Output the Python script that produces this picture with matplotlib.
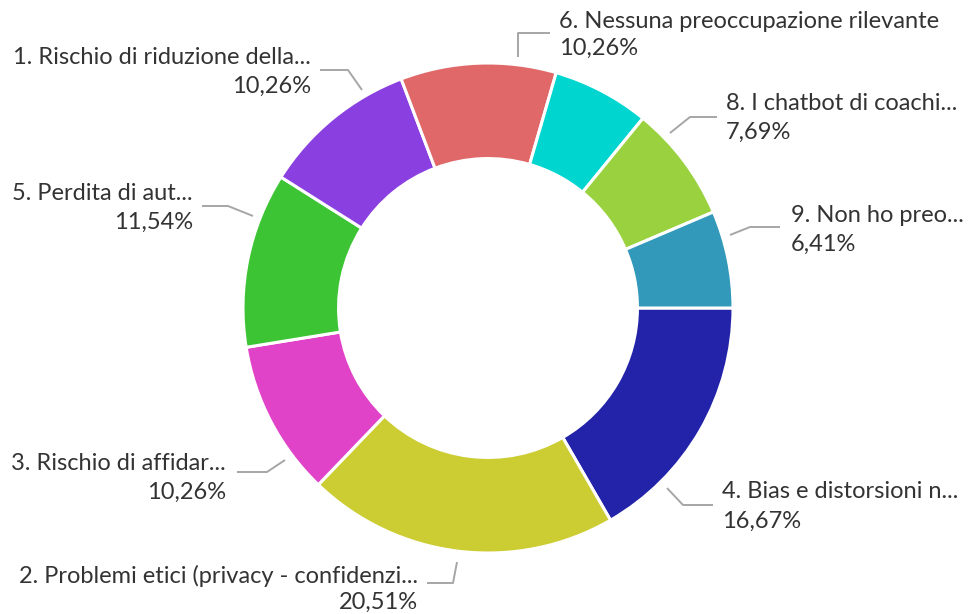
import numpy as np
import matplotlib
matplotlib.use("Agg")
import matplotlib.pyplot as plt

# slices in drawing order, clockwise from 3 o'clock
categories = [
    "4. Bias e distorsioni n...",
    "2. Problemi etici (privacy - confidenzi...",
    "3. Rischio di affidar...",
    "5. Perdita di aut...",
    "1. Rischio di riduzione della...",
    "6. Nessuna preoccupazione rilevante",
    "",
    "8. I chatbot di coachi...",
    "9. Non ho preo...",
]
shares = [16.67, 20.51, 10.26, 11.54, 10.26, 10.26, 6.41, 7.69, 6.41]
colors = ["#2323AA", "#CCCC33", "#E043C8", "#3CC435", "#8A40E0",
          "#E06868", "#00D6CF", "#99D13F", "#3399BB"]

W, H = 968, 614
cx, cy, r_out = 488, 308, 245
ring = 0.39


def py(y):
    # pixel row (top origin) -> data y
    return H - y


# label layout: leader path (pixel coords) and text anchor
layout = {
    0: dict(path=[(667, 488), (683, 505), (713, 505)], x=722, y=(492, 521), ha="left"),
    1: dict(path=[(457, 562), (453, 583), (427, 583)], x=418, y=(576, 602), ha="right"),
    2: dict(path=[(285, 460), (267, 472), (237, 472)], x=226, y=(463, 492), ha="right"),
    3: dict(path=[(253, 216), (228, 206), (202, 206)], x=193, y=(193, 222), ha="right"),
    4: dict(path=[(362, 90), (348, 70), (320, 70)], x=311, y=(58, 86), ha="right"),
    5: dict(path=[(518, 57), (518, 33), (550, 33)], x=559, y=(21, 48), ha="left"),
    7: dict(path=[(670, 133), (690, 117), (717, 117)], x=726, y=(104, 132), ha="left"),
    8: dict(path=[(730, 235), (750, 227), (780, 227)], x=791, y=(216, 244), ha="left"),
}

fig = plt.figure(figsize=(W / 100, H / 100), dpi=100)
ax = fig.add_axes([0, 0, 1, 1])

ax.pie(shares, colors=colors, startangle=0, counterclock=False,
       center=(cx, py(cy)), radius=r_out, frame=True,
       wedgeprops=dict(width=r_out * ring, edgecolor="white", linewidth=2.2))
ax.set_xlim(0, W)
ax.set_ylim(0, H)
ax.set_aspect("equal")
ax.axis("off")

total = sum(shares)
for i, name in enumerate(categories):
    if not name:
        continue
    lay = layout[i]
    xs = [p[0] for p in lay["path"]]
    ys = [py(p[1]) for p in lay["path"]]
    ax.plot(xs, ys, color="#A6A6A6", lw=1.4, solid_capstyle="butt")
    pct = f"{shares[i] / total * 100:.2f}%".replace(".", ",")
    ax.text(lay["x"], py(lay["y"][0]), name, ha=lay["ha"], va="center",
            fontsize=17, family="Lato", color="#333333")
    ax.text(lay["x"], py(lay["y"][1]), pct, ha=lay["ha"], va="center",
            fontsize=17, family="Lato", color="#333333")

fig.savefig("out.png", dpi=100, facecolor="white")
